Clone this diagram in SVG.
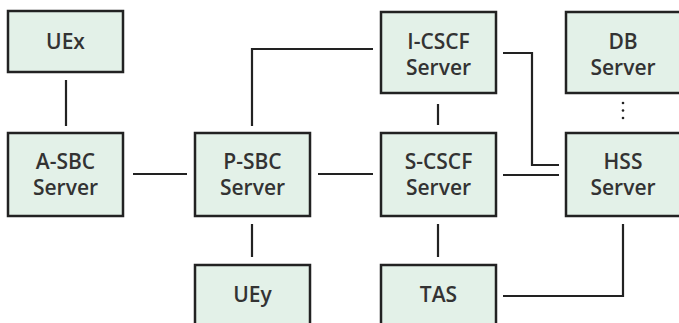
<svg xmlns="http://www.w3.org/2000/svg" width="679" height="323" viewBox="0 0 679 323">
<style>
.box{fill:#e3f1e8;stroke:#222;stroke-width:2.5}
.t{font-family:"Open Sans","Noto Sans",sans-serif;font-weight:600;font-size:21px;fill:#333;text-anchor:middle}
.c{fill:none;stroke:#222;stroke-width:2.2}
</style>
<rect width="679" height="323" fill="#fff"/>
<g id="connectors">
<path class="c" d="M66 80V126"/>
<path class="c" d="M133 174H187"/>
<path class="c" d="M318 174H373"/>
<path class="c" d="M503 175H559"/>
<path class="c" d="M252 126V49H373"/>
<path class="c" d="M503 53H532V165H559"/>
<path class="c" d="M438 104V125"/>
<path class="c" d="M252 224V257"/>
<path class="c" d="M438 224V257"/>
<path class="c" d="M623 224V296H503"/>
<g fill="#222"><circle cx="623" cy="103" r="1.3"/><circle cx="623" cy="110.5" r="1.3"/><circle cx="623" cy="118" r="1.3"/></g>
</g>
<g id="uex"><rect class="box" x="8" y="11" width="115" height="61"/><text class="t" x="65.5" y="49">UEx</text></g>
<g id="asbc"><rect class="box" x="8" y="133" width="115" height="83"/><text class="t" x="65.5" y="169">A-SBC</text><text class="t" x="65.5" y="195">Server</text></g>
<g id="psbc"><rect class="box" x="195" y="133" width="115" height="83"/><text class="t" x="252.5" y="169">P-SBC</text><text class="t" x="252.5" y="195">Server</text></g>
<g id="uey"><rect class="box" x="195" y="265" width="115" height="61"/><text class="t" x="252.5" y="302">UEy</text></g>
<g id="icscf"><rect class="box" x="381" y="12" width="115" height="81"/><text class="t" x="438.5" y="49">I-CSCF</text><text class="t" x="438.5" y="75">Server</text></g>
<g id="scscf"><rect class="box" x="381" y="133" width="115" height="83"/><text class="t" x="438.5" y="169">S-CSCF</text><text class="t" x="438.5" y="195">Server</text></g>
<g id="tas"><rect class="box" x="381" y="265" width="115" height="61"/><text class="t" x="438.5" y="302">TAS</text></g>
<g id="db"><rect class="box" x="566" y="12" width="115" height="81"/><text class="t" x="623" y="49">DB</text><text class="t" x="623" y="75">Server</text></g>
<g id="hss"><rect class="box" x="566" y="133" width="115" height="83"/><text class="t" x="623" y="169">HSS</text><text class="t" x="623" y="195">Server</text></g>
</svg>
